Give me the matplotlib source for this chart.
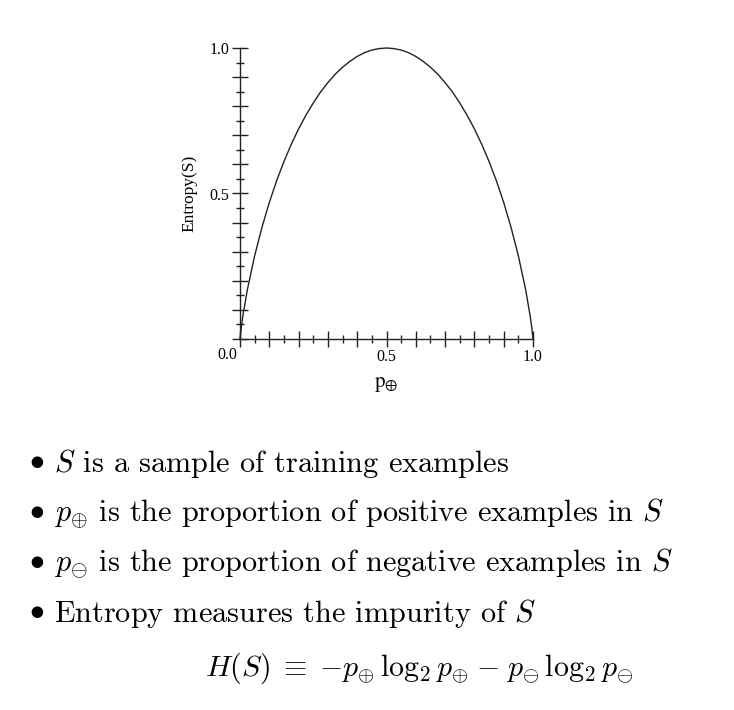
import matplotlib.pyplot as plt
from matplotlib.ticker import MultipleLocator, FuncFormatter

plt.rcParams['mathtext.fontset'] = 'cm'
plt.rcParams['axes.formatter.use_mathtext'] = True

# entropy curve, values
p_pos = [0.0, 0.005, 0.01, 0.025, 0.05, 0.075, 0.1, 0.125, 0.15, 0.175, 0.2, 0.225,
         0.25, 0.275, 0.3, 0.325, 0.35, 0.375, 0.4, 0.425, 0.45, 0.475, 0.5,
         0.525, 0.55, 0.575, 0.6, 0.625, 0.65, 0.675, 0.7, 0.725, 0.75, 0.775,
         0.8, 0.825, 0.85, 0.875, 0.9, 0.925, 0.95, 0.975, 0.99, 0.995, 1.0]
entropy = [0.0, 0.045, 0.081, 0.169, 0.286, 0.384, 0.469, 0.544, 0.610, 0.669, 0.722, 0.769,
           0.811, 0.849, 0.881, 0.910, 0.934, 0.954, 0.971, 0.984, 0.993, 0.998, 1.0,
           0.998, 0.993, 0.984, 0.971, 0.954, 0.934, 0.910, 0.881, 0.849, 0.811, 0.769,
           0.722, 0.669, 0.610, 0.544, 0.469, 0.384, 0.286, 0.169, 0.081, 0.045, 0.0]

labelled_ticks = [0.5, 1.0]

bullets = [
    r"$S$ is a sample of training examples",
    r"$p_{\oplus}$ is the proportion of positive examples in $S$",
    r"$p_{\ominus}$ is the proportion of negative examples in $S$",
    r"Entropy measures the impurity of $S$",
]
formula = (r"$H(S)\;\equiv\;{-}p_{\oplus}\,\log_2 p_{\oplus}\;{-}\;"
           r"p_{\ominus}\,\log_2 p_{\ominus}$")

W, H = 734, 710
fig = plt.figure(figsize=(W / 100, H / 100), dpi=100)
ax = fig.add_axes([240 / W, 1 - 339 / H, 293 / W, 291 / H])

ax.plot(p_pos, entropy, color='#222222', lw=1.0, clip_on=False)
ax.set_xlim(0, 1)
ax.set_ylim(0, 1)

for s in ['top', 'right']:
    ax.spines[s].set_visible(False)
for s in ['left', 'bottom']:
    ax.spines[s].set_linewidth(1.0)
    ax.spines[s].set_color('#222222')

def fmt(v, pos):
    for t in labelled_ticks:
        if abs(v - t) < 1e-6:
            return f"{t:.1f}"
    return ""

for axis in [ax.xaxis, ax.yaxis]:
    axis.set_major_locator(MultipleLocator(0.1))
    axis.set_minor_locator(MultipleLocator(0.05))
    axis.set_major_formatter(FuncFormatter(fmt))

ax.tick_params(which='major', direction='inout', length=12, width=1.0, color='#222222')
ax.tick_params(which='minor', direction='inout', length=6, width=1.0, color='#222222')
ax.tick_params(labelsize=11.5, pad=1.5, labelcolor='black')
for lab in ax.get_xticklabels() + ax.get_yticklabels():
    lab.set_family('Liberation Serif')

# the 0.0 label sits below and left of the origin
ax.annotate("0.0", xy=(0, 0), xycoords='data', xytext=(-13, -8), textcoords='offset pixels',
            ha='center', va='top', fontsize=11.5, family='Liberation Serif',
            annotation_clip=False)

ax.set_ylabel("Entropy(S)", family='Liberation Serif', fontsize=12.5, labelpad=9,
              color='black')
ax.set_xlabel(r"$\mathrm{p}_{\oplus}$", fontsize=15, math_fontfamily='stix', labelpad=6,
              color='black')

# bullet points below the chart
y0 = 463
for i, txt in enumerate(bullets):
    y = 1 - (y0 + 50 * i) / H
    fig.text(29 / W, y + 3 / H, r"$\bullet$", fontsize=21.5, va='center', ha='left')
    fig.text(54 / W, y, txt, fontsize=21.8, va='center', ha='left',
             family='cmr10', math_fontfamily='cm')
fig.text(205 / W, 1 - 668 / H, formula, fontsize=21.5, va='center', ha='left')

fig.savefig("out.png", dpi=100, facecolor='white')
